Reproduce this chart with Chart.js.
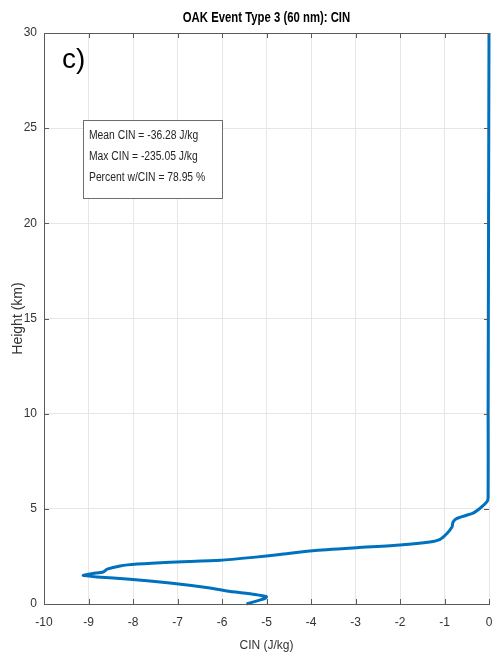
<!DOCTYPE html>
<html lang="en">
<head>
    <meta charset="UTF-8">
    <title>OAK Event Type 3 (60 nm): CIN</title>
    <script src="https://cdn.jsdelivr.net/npm/chart.js"></script>
    <style>
        html, body {
            margin: 0;
            padding: 0;
            background-color: #ffffff;
        }
        .chart-container {
            position: relative;
            width: 492px;
            height: 657px;
        }
    </style>
</head>
<body>
    <div class="chart-container">
        <canvas id="cinChart"></canvas>
    </div>

    <script>
        // profile: height (km) and CIN (J/kg)
        const heights = [0, 0.3, 0.38, 0.5, 0.68, 0.84, 1.1, 1.3, 1.42, 1.5, 1.6, 1.68, 1.83, 2.0, 2.1, 2.2, 2.3, 2.45, 2.6, 2.8, 2.96, 3.1, 3.26, 3.4, 3.72, 4.05, 4.3, 4.5, 4.77, 5.03, 5.36, 5.6, 10, 20, 30];
        const cinValues = [-5.45, -5.03, -5.0, -5.26, -5.89, -6.27, -7.17, -8.07, -8.81, -9.12, -8.9, -8.67, -8.58, -8.29, -7.91, -7.17, -6.04, -5.3, -4.7, -3.96, -2.97, -2.0, -1.33, -1.1, -0.94, -0.83, -0.81, -0.72, -0.36, -0.2, -0.05, -0.02, -0.02, -0.01, 0];

        const xTicks = [-10, -9, -8, -7, -6, -5, -4, -3, -2, -1, 0];
        const yTicks = [0, 5, 10, 15, 20, 25, 30];

        const chartTitle = 'OAK Event Type 3 (60 nm): CIN';
        const statsLines = ['Mean CIN = -36.28 J/kg', 'Max CIN = -235.05 J/kg', 'Percent w/CIN = 78.95 %'];
        const panelLabel = 'c)';

        const sans = '"Liberation Sans", Arial, sans-serif';

        // narrow-looking text: squeeze horizontally around (x, y)
        function squeezedText(ctx, text, x, y, sx, align) {
            ctx.save();
            ctx.translate(x, y);
            ctx.scale(sx, 1);
            ctx.textAlign = align;
            ctx.fillText(text, 0, 0);
            ctx.restore();
        }

        // box, inward ticks, title, stats text and the panel letter
        const matlabAxes = {
            id: 'matlabAxes',
            afterDraw(chart) {
                const ctx = chart.ctx;
                const a = chart.chartArea;
                const xs = chart.scales.x, ys = chart.scales.y;
                ctx.save();
                ctx.strokeStyle = '#5a5a5a';
                ctx.lineWidth = 1;
                ctx.beginPath();
                ctx.moveTo(a.left + 0.5, a.bottom + 0.5);
                ctx.lineTo(a.left + 0.5, a.top + 0.5);
                ctx.lineTo(a.right + 0.5, a.top + 0.5);
                ctx.moveTo(a.left, a.bottom + 0.5);
                ctx.lineTo(a.right + 1, a.bottom + 0.5);
                xTicks.forEach(v => {
                    const px = Math.round(xs.getPixelForValue(v)) + 0.5;
                    ctx.moveTo(px, a.bottom); ctx.lineTo(px, a.bottom - 5);
                    ctx.moveTo(px, a.top); ctx.lineTo(px, a.top + 5);
                });
                yTicks.forEach(v => {
                    const py = Math.round(ys.getPixelForValue(v)) + 0.5;
                    ctx.moveTo(a.left, py); ctx.lineTo(a.left + 5, py);
                    ctx.moveTo(a.right, py); ctx.lineTo(a.right - 5, py);
                });
                ctx.stroke();

                // title over the plot area
                ctx.fillStyle = '#000000';
                ctx.font = 'bold 14px ' + sans;
                ctx.textBaseline = 'middle';
                squeezedText(ctx, chartTitle, (a.left + a.right) / 2, 18, 0.81, 'center');

                // stats box
                ctx.fillStyle = '#ffffff';
                ctx.fillRect(83, 120, 139, 78);
                ctx.strokeStyle = '#6e6e6e';
                ctx.strokeRect(83.5, 120.5, 139, 78);
                ctx.fillStyle = '#262626';
                ctx.font = '12px ' + sans;
                statsLines.forEach((t, i) => squeezedText(ctx, t, 89, 136 + i * 21, 0.86, 'left'));

                // panel letter
                ctx.fillStyle = '#000000';
                ctx.font = '28px ' + sans;
                ctx.textBaseline = 'alphabetic';
                ctx.textAlign = 'left';
                ctx.fillText(panelLabel, 62, 68);
                ctx.restore();
            }
        };

        const points = heights.map((h, i) => ({ x: cinValues[i], y: h }));

        new Chart(document.getElementById('cinChart'), {
            type: 'scatter',
            data: {
                datasets: [{
                    label: 'CIN',
                    data: points,
                    showLine: true,
                    borderColor: '#0072BD',
                    borderWidth: 3,
                    pointRadius: 0,
                    tension: 0.2,
                    clip: false
                }]
            },
            options: {
                responsive: true,
                maintainAspectRatio: false,
                animation: false,
                layout: { padding: { top: 33, right: 3, left: 0, bottom: 0 } },
                plugins: {
                    legend: { display: false },
                    tooltip: { enabled: false },
                    title: { display: false }
                },
                scales: {
                    x: {
                        type: 'linear',
                        min: -10, max: 0,
                        afterBuildTicks: s => { s.ticks = xTicks.map(v => ({ value: v })); },
                        afterFit: s => { s.height = 53; s.paddingLeft = 0; s.paddingRight = 0; },
                        ticks: { color: '#333333', padding: 11, font: { family: sans, size: 12 } },
                        grid: { color: '#e6e6e6', drawTicks: false },
                        border: { display: false },
                        title: { display: true, text: 'CIN (J/kg)', color: '#333333', font: { family: sans, size: 12 }, padding: { top: 0, bottom: 4 } }
                    },
                    y: {
                        type: 'linear',
                        min: 0, max: 30,
                        afterBuildTicks: s => { s.ticks = yTicks.map(v => ({ value: v })); },
                        afterFit: s => { s.width = 44; s.paddingTop = 0; s.paddingBottom = 0; },
                        ticks: { color: '#333333', padding: 7, font: { family: sans, size: 12 } },
                        grid: { color: '#e6e6e6', drawTicks: false },
                        border: { display: false },
                        title: { display: true, text: 'Height (km)', color: '#333333', font: { family: sans, size: 14 }, padding: { top: 10, bottom: 0 } }
                    }
                }
            },
            plugins: [matlabAxes]
        });
    </script>
</body>
</html>
